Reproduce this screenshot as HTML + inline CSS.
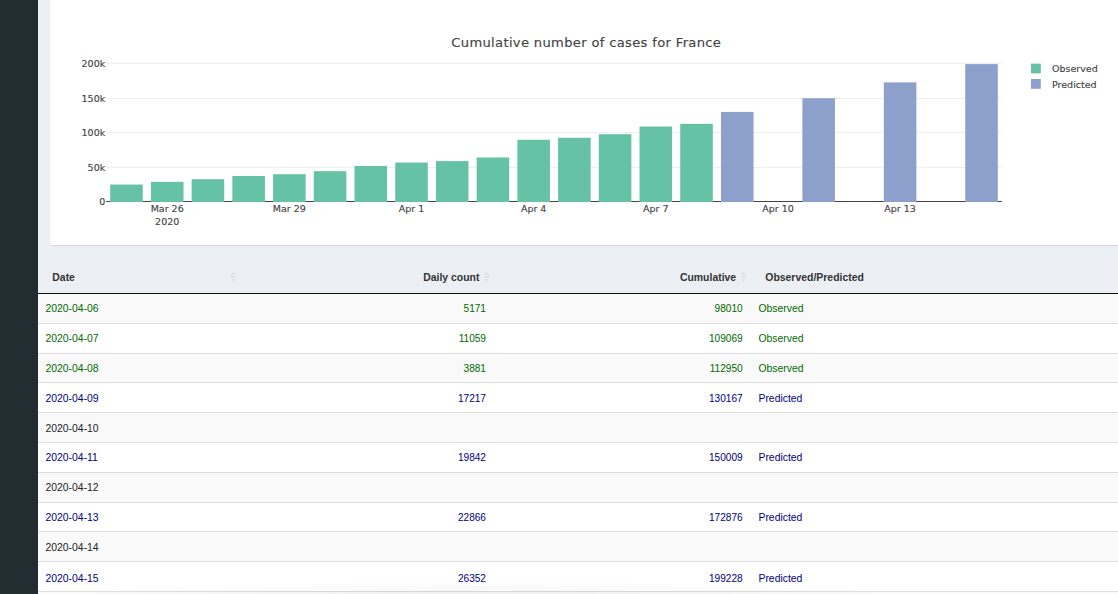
<!DOCTYPE html>
<html><head><meta charset="utf-8"><style>
html,body{margin:0;padding:0}
body{width:1118px;height:594px;overflow:hidden;background:#ecf0f5;position:relative;font-family:"Liberation Sans",Arial,sans-serif}
.sidebar{position:absolute;left:0;top:0;width:38px;height:594px;background:#222d32}
.card{position:absolute;left:50px;top:-20px;width:1100px;height:264.6px;background:#fff;border-radius:3px;box-shadow:0 1px 1px rgba(0,0,0,.1)}
.chart{position:absolute;left:0;top:0}
.chart text{font-family:"DejaVu Sans",Verdana,sans-serif;fill:#444;stroke:#444;stroke-width:0.15px}
.chart .t{font-size:9.5px}
.chart .title{font-size:13.1px;letter-spacing:0.33px}
table{position:absolute;left:38px;top:262px;width:1080px;border-collapse:separate;border-spacing:0;font-size:10.4px;color:#222;table-layout:fixed}
th{font-weight:bold;font-size:10.45px;text-align:left;padding:0 13.5px;height:32px;border-bottom:1px solid #111;position:relative;box-sizing:border-box;color:#333;vertical-align:top;padding-top:9.7px}
td{padding:0 7.5px 1.8px;height:29.8px;box-sizing:border-box;border-top:1px solid #ddd}
td.r{padding-right:7px;font-size:10.1px}
tr.odd td{background:#f9f9f9}
tr.even td{background:#fff}
tbody tr:first-child td{border-top:none;height:28.8px}
td.r,th.r{text-align:right}
tr.o td{color:#006a00}
tr.p td{color:#000080}
td span{position:relative}
td:nth-child(4){padding-left:8.8px}
th:nth-child(4){padding-left:15.6px}
th:first-child{padding-left:14.3px}
.shade{position:absolute;left:60px;top:570px;width:860px;height:40px;background:radial-gradient(ellipse 50% 50% at 50% 75%,rgba(0,0,0,.05),rgba(0,0,0,0) 100%);pointer-events:none}
.si{position:absolute;right:2.9px;top:9.4px}
</style></head><body>
<div class="sidebar"></div>
<div class="card"></div>
<svg class="chart" width="1118" height="250" viewBox="0 0 1118 250">
<line x1="106.14" x2="1001.89" y1="63.5" y2="63.5" stroke="#eee" stroke-width="1"/>
<line x1="106.14" x2="1001.89" y1="98.5" y2="98.5" stroke="#eee" stroke-width="1"/>
<line x1="106.14" x2="1001.89" y1="132.5" y2="132.5" stroke="#eee" stroke-width="1"/>
<line x1="106.14" x2="1001.89" y1="167.5" y2="167.5" stroke="#eee" stroke-width="1"/>
<line x1="106.14" x2="1001.89" y1="201.5" y2="201.5" stroke="#444" stroke-width="1"/>
<rect x="110.21" y="184.54" width="32.57" height="17.46" fill="#66c2a5"/>
<rect x="150.93" y="181.82" width="32.57" height="20.18" fill="#66c2a5"/>
<rect x="191.64" y="179.19" width="32.57" height="22.81" fill="#66c2a5"/>
<rect x="232.36" y="176.00" width="32.57" height="26.00" fill="#66c2a5"/>
<rect x="273.08" y="174.20" width="32.57" height="27.80" fill="#66c2a5"/>
<rect x="313.79" y="171.17" width="32.57" height="30.83" fill="#66c2a5"/>
<rect x="354.51" y="165.93" width="32.57" height="36.07" fill="#66c2a5"/>
<rect x="395.22" y="162.56" width="32.57" height="39.44" fill="#66c2a5"/>
<rect x="435.94" y="161.10" width="32.57" height="40.90" fill="#66c2a5"/>
<rect x="476.66" y="157.48" width="32.57" height="44.52" fill="#66c2a5"/>
<rect x="517.37" y="139.75" width="32.57" height="62.25" fill="#66c2a5"/>
<rect x="558.09" y="137.76" width="32.57" height="64.24" fill="#66c2a5"/>
<rect x="598.80" y="134.18" width="32.57" height="67.82" fill="#66c2a5"/>
<rect x="639.52" y="126.52" width="32.57" height="75.48" fill="#66c2a5"/>
<rect x="680.24" y="123.84" width="32.57" height="78.16" fill="#66c2a5"/>
<rect x="720.95" y="111.92" width="32.57" height="90.08" fill="#8da0cb"/>
<rect x="802.38" y="98.19" width="32.57" height="103.81" fill="#8da0cb"/>
<rect x="883.82" y="82.37" width="32.57" height="119.63" fill="#8da0cb"/>
<rect x="965.25" y="64.13" width="32.57" height="137.87" fill="#8da0cb"/>
<text x="105.2" y="204.80" text-anchor="end" class="t">0</text>
<text x="105.2" y="170.80" text-anchor="end" class="t">50k</text>
<text x="105.2" y="135.80" text-anchor="end" class="t">100k</text>
<text x="105.2" y="101.80" text-anchor="end" class="t">150k</text>
<text x="105.2" y="66.80" text-anchor="end" class="t">200k</text>
<text x="167.21" y="212" text-anchor="middle" class="t">Mar 26</text>
<text x="289.36" y="212" text-anchor="middle" class="t">Mar 29</text>
<text x="411.51" y="212" text-anchor="middle" class="t">Apr 1</text>
<text x="533.66" y="212" text-anchor="middle" class="t">Apr 4</text>
<text x="655.81" y="212" text-anchor="middle" class="t">Apr 7</text>
<text x="777.95" y="212" text-anchor="middle" class="t">Apr 10</text>
<text x="900.10" y="212" text-anchor="middle" class="t">Apr 13</text>
<text x="167.21" y="224.6" text-anchor="middle" class="t">2020</text>
<text x="451.3" y="46.7" class="title">Cumulative number of cases for France</text>
<rect x="1031" y="63.6" width="9.8" height="9.8" fill="#66c2a5"/>
<rect x="1031" y="79" width="9.8" height="9.8" fill="#8da0cb"/>
<text x="1052" y="71.8" class="t">Observed</text>
<text x="1052" y="87.5" class="t">Predicted</text>
</svg>
<table>
<colgroup><col style="width:201.6px"><col style="width:253.4px"><col style="width:256.7px"><col></colgroup>
<thead><tr><th>Date<svg class="si" width="7" height="12" viewBox="0 0 7 12"><polygon points="3.5,0.3 6.6,5.8 3.5,11.3 0.4,5.8" fill="#dfe0e3"/><rect x="1.2" y="4.1" width="4.6" height="0.9" fill="#f6f7f9"/><rect x="1.2" y="7.0" width="4.6" height="0.9" fill="#f6f7f9"/></svg></th><th class="r">Daily count<svg class="si" width="7" height="12" viewBox="0 0 7 12"><polygon points="3.5,0.3 6.6,5.8 3.5,11.3 0.4,5.8" fill="#dfe0e3"/><rect x="1.2" y="4.1" width="4.6" height="0.9" fill="#f6f7f9"/><rect x="1.2" y="7.0" width="4.6" height="0.9" fill="#f6f7f9"/></svg></th><th class="r">Cumulative<svg class="si" width="7" height="12" viewBox="0 0 7 12"><polygon points="3.5,0.3 6.6,5.8 3.5,11.3 0.4,5.8" fill="#dfe0e3"/><rect x="1.2" y="4.1" width="4.6" height="0.9" fill="#f6f7f9"/><rect x="1.2" y="7.0" width="4.6" height="0.9" fill="#f6f7f9"/></svg></th><th>Observed/Predicted</th></tr></thead>
<tbody>
<tr class="o odd"><td><span style="top:1px">2020-04-06</span></td><td class="r"><span style="top:1px">5171</span></td><td class="r"><span style="top:1px">98010</span></td><td><span style="top:1px">Observed</span></td></tr>
<tr class="o even"><td><span style="top:1px">2020-04-07</span></td><td class="r"><span style="top:1px">11059</span></td><td class="r"><span style="top:1px">109069</span></td><td><span style="top:1px">Observed</span></td></tr>
<tr class="o odd"><td><span style="top:1px">2020-04-08</span></td><td class="r"><span style="top:1px">3881</span></td><td class="r"><span style="top:1px">112950</span></td><td><span style="top:1px">Observed</span></td></tr>
<tr class="p even"><td><span style="top:2px">2020-04-09</span></td><td class="r"><span style="top:2px">17217</span></td><td class="r"><span style="top:2px">130167</span></td><td><span style="top:2px">Predicted</span></td></tr>
<tr class="n odd"><td><span style="top:2px">2020-04-10</span></td><td class="r"></td><td class="r"></td><td></td></tr>
<tr class="p even"><td><span style="top:1.5px">2020-04-11</span></td><td class="r"><span style="top:1.5px">19842</span></td><td class="r"><span style="top:1.5px">150009</span></td><td><span style="top:1.5px">Predicted</span></td></tr>
<tr class="n odd"><td><span style="top:1px">2020-04-12</span></td><td class="r"></td><td class="r"></td><td></td></tr>
<tr class="p even"><td><span style="top:1.5px">2020-04-13</span></td><td class="r"><span style="top:1.5px">22866</span></td><td class="r"><span style="top:1.5px">172876</span></td><td><span style="top:1.5px">Predicted</span></td></tr>
<tr class="n odd"><td><span style="top:2px">2020-04-14</span></td><td class="r"></td><td class="r"></td><td></td></tr>
<tr class="p even"><td><span style="top:2.5px">2020-04-15</span></td><td class="r"><span style="top:2.5px">26352</span></td><td class="r"><span style="top:2.5px">199228</span></td><td><span style="top:2.5px">Predicted</span></td></tr>
<tr class="n odd"><td></td><td class="r"></td><td class="r"></td><td></td></tr>
</tbody></table>
<div class="shade"></div>
</body></html>
